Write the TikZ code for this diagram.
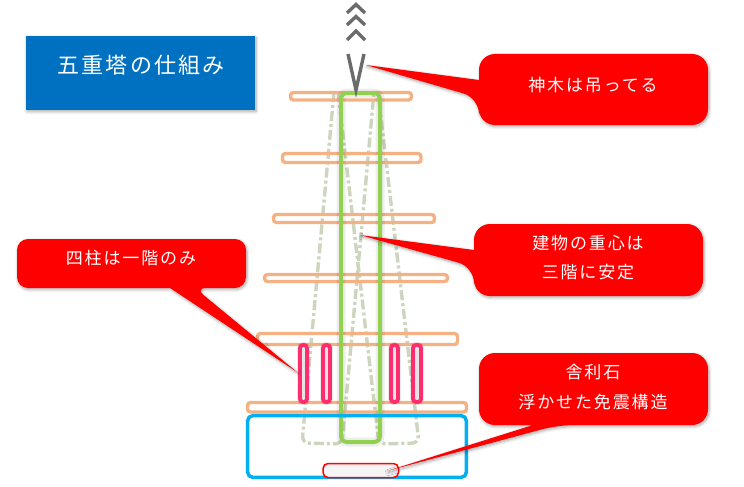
\documentclass[tikz,border=0pt]{standalone}
\usepackage{fontspec}
\setmainfont{Noto Sans CJK JP}
\usetikzlibrary{shadows.blur}
\definecolor{titleblue}{HTML}{0070C0}
\definecolor{barorange}{HTML}{F4B183}
\definecolor{gogreen}{HTML}{92D050}
\definecolor{baseblue}{HTML}{00B0F0}
\definecolor{pillarpink}{HTML}{FF2D6E}
\definecolor{ghost}{HTML}{CDD5BF}
\tikzset{
  x=1pt,y=-1pt,
  softshadow/.style={blur shadow={shadow blur steps=6,shadow xshift=1pt,shadow yshift=-1.5pt,shadow blur radius=3pt,shadow opacity=35}},
  halo/.style={preaction={draw=black,draw opacity=.07,line width=#1}},
  titlebox/.style={fill=titleblue,softshadow},
  callout/.style={fill=red,softshadow},
  lbl/.style={text=white,align=center,font=\fontsize{17}{29.5}\selectfont\addfontfeature{LetterSpace=11}},
  ttl/.style={text=white,font=\fontsize{22}{26}\selectfont\addfontfeature{LetterSpace=10}},
  floorbar/.style={draw=barorange,line width=3.4pt,rounded corners=3pt},
  ghostline/.style={draw=ghost,line width=3.4pt,dash pattern=on 10pt off 3pt on 3pt off 3pt,rounded corners=7pt},
  pillar/.style={draw=pillarpink,fill=black!10,line width=3.8pt,rounded corners=3pt,halo=6pt},
  finial/.style={draw=black!58,line width=3.4pt,miter limit=10}
}
\begin{document}
\begin{tikzpicture}
\useasboundingbox (0,0) rectangle (744,487);
% title
\fill[titlebox] (26,36) rectangle (255,110);
\node[ttl] (title) at (141,65) {五重塔の仕組み};
% ghost trapezoids
\draw[ghostline] (334,92) -- (302,443) -- (342,444) -- (374,92);
\draw[ghostline] (338,92) -- (379,444) -- (419,443) -- (378,92);
% floors
\draw[floorbar] (290.5,92.5) rectangle (411.5,100);
\draw[floorbar] (282.5,153.5) rectangle (421,162.5);
\draw[floorbar] (273.5,214.5) rectangle (434.5,222.5);
\draw[floorbar] (264.5,274.5) rectangle (447.5,281.5);
\draw[floorbar] (257.5,333.5) rectangle (457.5,344.5);
\draw[floorbar] (247.5,402.5) rectangle (466.5,412);
% shinbashira
\draw[draw=gogreen,line width=4pt,rounded corners=6pt,halo=9pt] (341,93) rectangle (380,442);
% pillars
\draw[pillar] (300,345) rectangle (307,402);
\draw[pillar] (323,345) rectangle (330,402);
\draw[pillar] (391,345) rectangle (398,402);
\draw[pillar] (413,345) rectangle (421,402);
% base
\draw[draw=baseblue,line width=3.5pt,rounded corners=5pt] (247.7,415.7) rectangle (466.3,477.3);
\draw[draw=red,fill=black!4,line width=1.5pt,rounded corners=5pt] (323,463.5) rectangle (398.5,477.5);
% finial
\draw[finial] (347,13) -- (356,4.5) -- (365,13);
\draw[finial] (347,25) -- (356,16.5) -- (365,25);
\draw[finial] (347,40) -- (356,31) -- (365,40);
\draw[finial] (348,54) -- (356,90) -- (364,54);
% callouts
\fill[callout] [rounded corners=16pt] (600,54) -- (708,54) -- (708,125) -- (479,125) -- (479,98) [sharp corners] -- (366,65) -- (479,80) [rounded corners=16pt] -- (479,54) -- cycle;
\node[lbl] (c1) at (593,85) {神木は吊ってる};
\fill[callout] [rounded corners=16pt] (600,224) -- (703,224) -- (703,296) -- (474,296) -- (474,267) [sharp corners] -- (360,235) -- (474,250) [rounded corners=16pt] -- (474,224) -- cycle;
\node[lbl] (c2) at (588,257.5) {建物の重心は\\三階に安定};
\fill[callout] [rounded corners=11pt] (130,239) -- (246,239) -- (246,288) -- (195,288) [sharp corners] -- (297,372) -- (170,288) [rounded corners=11pt] -- (17,288) -- (17,239) -- cycle;
\node[lbl] (c3) at (131,258) {四柱は一階のみ};
\fill[callout] [rounded corners=16pt] (600,353) -- (708,353) -- (708,425) -- (558,425) [sharp corners] -- (387,471) -- (533,425) [rounded corners=16pt] -- (479,425) -- (479,353) -- cycle;
\node[lbl] (c4) at (593,387) {舎利石\\浮かせた免震構造};
\end{tikzpicture}
\end{document}
